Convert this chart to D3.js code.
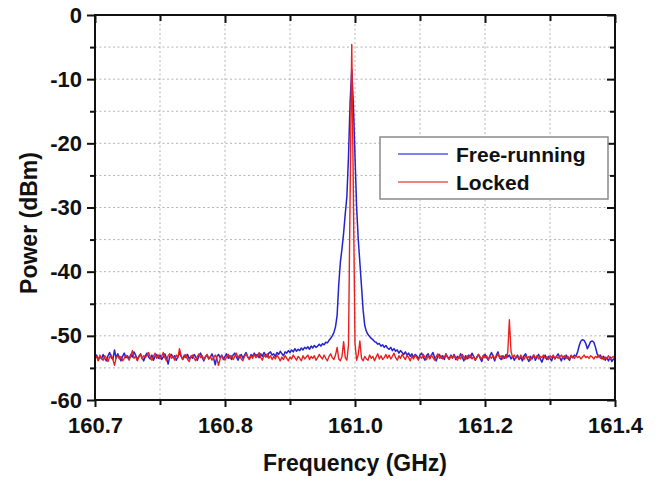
<!DOCTYPE html>
<html><head><meta charset="utf-8">
<script src="https://cdn.jsdelivr.net/npm/d3@7"></script>
<style>
html,body{margin:0;padding:0;background:#fff;}
svg{display:block;font-family:"Liberation Sans",Arial,sans-serif;}
</style></head>
<body>
<svg id="chart" width="659" height="483"></svg>
<script>
// ---- data ----
const freqStart = 160.6;   // GHz, first sample
const freqStep = 0.0025;   // GHz between samples
const seriesNames = ["Free-running", "Locked"];
const xTickValues = [160.6, 160.8, 161.0, 161.2, 161.4];
const xTickLabels = ["160.7", "160.8", "161.0", "161.2", "161.4"];
const yTickValues = [0, -10, -20, -30, -40, -50, -60];
const yTickLabels = ["0", "-10", "-20", "-30", "-40", "-50", "-60"];
const xMinorValues = [160.7, 160.9, 161.1, 161.3];
const yMinorValues = [-5, -15, -25, -35, -45, -55];

const freeRunning = [
-53.4,-53.0,-53.8,-53.2,-53.6,-52.9,-53.5,-53.9,-53.1,-52.6,-53.4,-53.7,-52.2,-53.5,-52.8,-53.3,-53.9,-53.2,-52.7,-53.4,
-53.1,-53.6,-52.9,-53.3,-52.5,-53.0,-53.7,-53.2,-52.8,-53.4,-53.9,-53.1,-52.7,-53.3,-53.6,-53.0,-53.8,-53.2,-52.9,-53.5,
-53.0,-53.7,-53.3,-52.8,-53.5,-54.4,-53.2,-52.9,-53.4,-53.1,-53.8,-53.3,-52.6,-53.2,-53.7,-53.0,-53.4,-52.9,-53.6,-53.2,
-53.5,-52.9,-53.3,-53.8,-53.1,-52.7,-53.4,-53.9,-53.2,-53.0,-53.6,-53.3,-52.8,-53.5,-54.5,-53.2,-52.9,-53.4,-53.0,-53.7,
-53.2,-52.8,-53.5,-53.1,-53.7,-53.0,-52.7,-53.3,-53.8,-53.2,-52.9,-53.5,-53.0,-52.6,-53.3,-53.6,-52.9,-53.2,-52.7,-53.1,
-52.9,-53.4,-52.8,-53.2,-52.6,-53.0,-53.3,-52.7,-52.5,-53.0,-52.8,-53.2,-52.6,-52.9,-52.4,-52.8,-53.1,-52.5,-52.7,-52.3,
-52.6,-52.2,-52.5,-52.0,-52.4,-52.1,-52.3,-51.9,-52.2,-51.8,-52.0,-51.7,-52.1,-51.6,-51.9,-51.5,-51.8,-51.6,-51.3,-51.6,
-51.2,-51.4,-51.0,-51.1,-50.7,-50.4,-50.0,-49.5,-48.6,-46.8,-42.0,-38.5,-36.4,-34.0,-31.0,-28.3,-22.0,-13.5,-8.5,-14.0,
-22.0,-30.0,-35.0,-38.6,-42.3,-46.0,-48.4,-49.3,-49.8,-50.1,-50.4,-50.6,-50.9,-51.0,-51.3,-51.2,-51.6,-51.4,-51.8,-51.5,
-51.9,-52.1,-51.8,-52.3,-52.0,-52.4,-52.2,-52.7,-52.3,-52.6,-52.9,-52.5,-53.0,-52.7,-53.2,-52.8,-53.4,-52.9,-53.1,-53.6,
-53.0,-52.7,-53.3,-53.8,-53.1,-52.8,-53.5,-53.0,-52.6,-53.4,-53.9,-53.2,-52.9,-53.5,-53.1,-53.7,-52.8,-53.3,-53.6,-53.0,
-53.4,-52.9,-53.7,-53.2,-53.5,-52.8,-53.3,-53.9,-53.1,-53.6,-53.0,-53.4,-52.7,-53.2,-53.8,-53.3,-52.9,-53.5,-54.0,-53.2,
-52.9,-53.4,-53.8,-53.1,-52.6,-53.3,-53.9,-53.0,-52.5,-53.4,-53.7,-53.1,-53.5,-52.9,-53.3,-53.0,-53.6,-53.2,-53.8,-53.4,
-53.0,-53.7,-53.3,-53.9,-53.1,-52.8,-53.5,-54.0,-53.2,-53.6,-53.0,-53.8,-53.3,-52.9,-53.6,-54.1,-53.4,-53.0,-53.7,-53.2,
-53.5,-53.9,-53.1,-53.6,-53.2,-52.8,-53.4,-53.9,-53.2,-53.7,-53.0,-53.5,-53.8,-53.1,-53.4,-53.0,-53.2,-52.5,-51.5,-50.8,
-50.6,-50.7,-51.2,-52.0,-51.5,-50.9,-50.8,-51.0,-51.8,-52.8,-53.3,-53.0,-53.6,-53.2,-53.8,-53.4,-53.9,-53.3,-54.0,-53.6,
-53.8
];

const locked = [
-53.6,-53.2,-53.9,-53.0,-53.5,-53.8,-53.1,-53.4,-54.0,-53.3,-53.0,-53.7,-54.6,-53.4,-53.1,-53.6,-53.2,-53.9,-53.5,-53.0,
-53.4,-53.8,-53.1,-52.3,-53.5,-53.2,-53.9,-53.3,-52.9,-53.6,-53.1,-53.4,-53.0,-52.6,-53.3,-53.8,-53.2,-52.7,-53.5,-53.0,
-53.6,-53.2,-52.6,-53.4,-53.9,-53.1,-52.8,-53.5,-53.2,-53.8,-53.0,-53.4,-52.0,-53.1,-53.6,-53.3,-52.9,-53.7,-54.0,-53.2,
-53.0,-53.5,-53.9,-53.2,-52.8,-53.4,-53.1,-53.7,-53.3,-52.9,-53.6,-53.2,-53.8,-53.4,-53.0,-53.5,-54.6,-53.6,-53.1,-53.4,
-53.8,-53.3,-52.9,-53.5,-53.1,-53.7,-53.2,-52.7,-53.4,-53.0,-53.6,-53.9,-53.2,-52.8,-53.3,-53.7,-53.1,-53.5,-52.9,-53.4,
-53.2,-52.6,-53.4,-53.8,-53.0,-53.3,-52.8,-53.5,-53.1,-53.7,-53.2,-53.6,-53.0,-53.4,-53.9,-53.3,-53.7,-53.1,-53.5,-53.9,
-53.3,-53.6,-53.0,-53.4,-53.8,-53.2,-53.5,-53.9,-53.1,-53.6,-53.3,-53.0,-53.7,-53.2,-53.5,-53.1,-53.8,-53.4,-52.9,-53.3,
-53.6,-53.0,-53.5,-53.9,-53.2,-52.8,-53.4,-53.7,-53.0,-51.8,-53.6,-53.9,-53.2,-50.9,-53.4,-53.8,-51.4,-28.0,-4.6,-28.0,
-51.2,-53.8,-52.9,-50.8,-53.5,-53.9,-53.2,-53.6,-53.8,-53.0,-53.5,-53.2,-53.9,-53.3,-52.8,-53.6,-53.1,-53.7,-53.4,-52.9,
-53.5,-53.0,-53.6,-53.2,-52.7,-53.4,-53.8,-53.1,-53.5,-52.9,-53.3,-53.7,-53.0,-53.4,-53.9,-53.2,-53.6,-53.0,-53.4,-53.8,
-53.2,-53.5,-52.9,-53.3,-53.7,-53.1,-53.6,-53.0,-53.4,-53.8,-53.2,-52.8,-53.5,-53.1,-53.6,-53.3,-52.9,-53.4,-53.7,-53.1,
-53.5,-53.0,-53.4,-53.8,-53.2,-53.6,-52.9,-53.3,-53.7,-53.1,-53.5,-53.0,-53.6,-53.2,-53.8,-53.4,-52.9,-53.3,-53.6,-53.0,
-53.4,-53.1,-53.7,-53.2,-53.5,-53.0,-53.6,-53.3,-52.8,-53.4,-53.1,-53.6,-53.2,-53.5,-52.6,-47.5,-52.4,-53.4,-53.0,-53.5,
-53.2,-53.6,-53.0,-53.4,-53.7,-53.1,-53.5,-53.2,-53.8,-53.3,-53.0,-53.5,-53.1,-53.6,-53.2,-53.4,-53.0,-53.5,-53.3,-53.7,
-53.1,-53.4,-53.0,-53.6,-53.2,-53.5,-53.3,-53.0,-53.4,-53.1,-53.5,-53.2,-53.6,-53.0,-53.3,-53.5,-53.1,-53.4,-53.2,-53.6,
-53.3,-53.0,-53.4,-53.2,-53.5,-53.1,-53.3,-53.6,-53.2,-53.4,-53.0,-53.5,-53.2,-53.7,-53.3,-53.5,-53.1,-53.6,-53.4,-53.2,
-53.5
];

// ---- chart ----
const svg = d3.select("#chart");
const M = {left: 95, right: 615, top: 15, bottom: 400};
const x = d3.scaleLinear().domain([160.6, 161.4]).range([M.left, M.right]);
const y = d3.scaleLinear().domain([-60, 0]).range([M.bottom, M.top]);
const colors = {"Free-running": "#2323d0", "Locked": "#e8211f"};

// grid
const grid = svg.append("g").attr("stroke", "#b4b4b4").attr("stroke-width", 1).attr("stroke-dasharray", "2,2.5");
const gx = xTickValues.concat(xMinorValues).filter(v => v > 160.61 && v < 161.39);
grid.selectAll("line.gx").data(gx).join("line")
  .attr("x1", d => x(d)).attr("x2", d => x(d)).attr("y1", M.top).attr("y2", M.bottom);
const gy = yTickValues.concat(yMinorValues).filter(v => v > -59.9 && v < -0.1);
grid.selectAll("line.gy").data(gy).join("line")
  .attr("y1", d => y(d)).attr("y2", d => y(d)).attr("x1", M.left).attr("x2", M.right);

// data lines
const line = d3.line().x((d, i) => x(freqStart + i * freqStep)).y(d => y(d));
const plot = svg.append("g");
plot.append("path").datum(freeRunning).attr("d", line)
  .attr("fill", "none").attr("stroke", colors["Free-running"]).attr("stroke-width", 1.5).attr("stroke-linejoin", "round");
plot.append("path").datum(locked).attr("d", line)
  .attr("fill", "none").attr("stroke", colors["Locked"]).attr("stroke-width", 1.4).attr("stroke-linejoin", "round");

// axes
function styleAxis(g) {
  g.selectAll(".domain").remove();
  g.selectAll(".tick line").attr("stroke", "#111").attr("stroke-width", 2);
  g.selectAll("text").attr("font-size", 22).attr("font-weight", "bold").attr("fill", "#111")
    .attr("font-family", "'Liberation Sans', Arial, sans-serif");
}
// bottom
svg.append("g").attr("transform", `translate(0,${M.bottom})`)
  .call(d3.axisBottom(x).tickValues(xTickValues).tickFormat((d, i) => xTickLabels[i]).tickSize(7).tickPadding(10).tickSizeOuter(0))
  .call(styleAxis);
svg.append("g").attr("transform", `translate(0,${M.bottom})`)
  .call(d3.axisBottom(x).tickValues(xMinorValues).tickFormat("").tickSize(5).tickSizeOuter(0))
  .call(styleAxis);
// top (inward)
svg.append("g").attr("transform", `translate(0,${M.top})`)
  .call(d3.axisTop(x).tickValues(xTickValues).tickFormat("").tickSize(-8).tickSizeOuter(0))
  .call(styleAxis);
svg.append("g").attr("transform", `translate(0,${M.top})`)
  .call(d3.axisTop(x).tickValues(xMinorValues).tickFormat("").tickSize(-6).tickSizeOuter(0))
  .call(styleAxis);
// left
svg.append("g").attr("transform", `translate(${M.left},0)`)
  .call(d3.axisLeft(y).tickValues(yTickValues).tickFormat((d, i) => yTickLabels[i]).tickSize(8).tickPadding(5).tickSizeOuter(0))
  .call(styleAxis);
svg.append("g").attr("transform", `translate(${M.left},0)`)
  .call(d3.axisLeft(y).tickValues(yMinorValues).tickFormat("").tickSize(5).tickSizeOuter(0))
  .call(styleAxis);
// right (inward)
svg.append("g").attr("transform", `translate(${M.right},0)`)
  .call(d3.axisRight(y).tickValues(yTickValues).tickFormat("").tickSize(-8).tickSizeOuter(0))
  .call(styleAxis);
svg.append("g").attr("transform", `translate(${M.right},0)`)
  .call(d3.axisRight(y).tickValues(yMinorValues).tickFormat("").tickSize(-5).tickSizeOuter(0))
  .call(styleAxis);

// frame
svg.append("rect").attr("x", M.left).attr("y", M.top)
  .attr("width", M.right - M.left).attr("height", M.bottom - M.top)
  .attr("fill", "none").attr("stroke", "#111").attr("stroke-width", 2);

// axis titles
svg.append("text").attr("x", (M.left + M.right) / 2).attr("y", 471)
  .attr("text-anchor", "middle").attr("font-size", 23).attr("font-weight", "bold").attr("fill", "#111")
  .text("Frequency (GHz)");
svg.append("text").attr("transform", "translate(37,223) rotate(-90)")
  .attr("text-anchor", "middle").attr("font-size", 23).attr("font-weight", "bold").attr("fill", "#111")
  .text("Power (dBm)");

// legend
const lg = svg.append("g");
lg.append("rect").attr("x", 380).attr("y", 137).attr("width", 228).attr("height", 62)
  .attr("fill", "#fff").attr("stroke", "#8a8a8a").attr("stroke-width", 1.5);
seriesNames.forEach((name, i) => {
  const yy = 154 + i * 28;
  lg.append("line").attr("x1", 398).attr("x2", 448).attr("y1", yy).attr("y2", yy)
    .attr("stroke", colors[name]).attr("stroke-width", 1.5).attr("opacity", 0.75);
  lg.append("text").attr("x", 456).attr("y", yy + 8).attr("font-size", 21).attr("font-weight", "bold")
    .attr("fill", "#111").text(name);
});
</script>
</body></html>
